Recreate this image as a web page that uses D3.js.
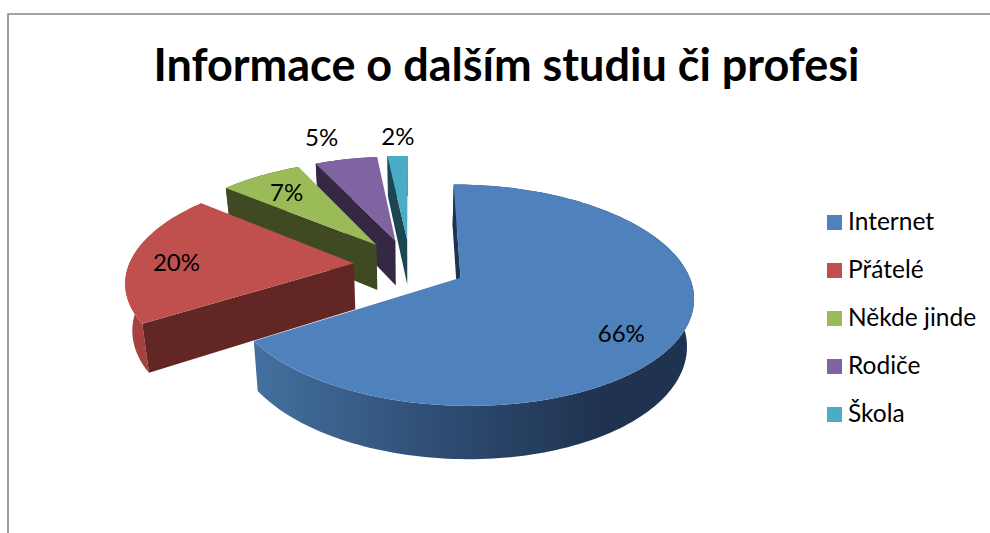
<!DOCTYPE html>
<html>
<head>
<meta charset="utf-8">
<script src="https://cdn.jsdelivr.net/npm/d3@7"></script>
<style>
html, body { margin: 0; padding: 0; background: #fff; overflow: hidden; }
text { font-family: Lato, "Noto Sans", sans-serif; fill: #000; }
</style>
</head>
<body>
<svg id="chart" width="990" height="533"></svg>
<script>
var categories = ['Internet', 'Přátelé', 'Někde jinde', 'Rodiče', 'Škola'];
var values     = [66, 20, 7, 5.3, 1.7];
var labels     = ['66%', '20%', '7%', '5%', '2%'];
var topColors  = ['#4f81bd', '#c0504d', '#9bbb59', '#8064a2', '#4bacc6'];
var sideColors = ['#1f3350', '#622725', '#404a22', '#352845', '#1d4552'];
var titleText  = 'Informace o dalším studiu či profesi';

var cx = 410.1, cy = 265, radiusX = 225, radiusY = 104;
var explode = 0.251, persp = 0.154, shrink = 0.975;

var svg = d3.select('#chart');
var xScale = d3.scaleLinear().domain([-1, 1]).range([cx - radiusX, cx + radiusX]);
var yScale = d3.scaleLinear().domain([-1, 1]).range([cy + radiusY, cy - radiusY]);
var line = d3.line();

// disc coordinates to screen, with a simple perspective
function project(X, Y, bottom){
	var s = 1 / (1 + persp * Y);
	var px = xScale(X * s), py = yScale(Y * s);
	if(bottom){
		px = cx + (px - cx) * shrink;
		py = py + 46 + (s - 1) * 35;
	}
	return [px, py];
}

// point of a slice: r from its own apex, at angle a (clockwise from 12 o'clock)
function slicePoint(d, a, r, bottom){
	var mid = (d.startAngle + d.endAngle) / 2;
	var X = explode * Math.sin(mid) + r * Math.sin(a);
	var Y = explode * Math.cos(mid) + r * Math.cos(a);
	return project(X, Y, bottom);
}

function arcAngles(d){
	var n = Math.max(4, Math.ceil((d.endAngle - d.startAngle) * 40));
	return d3.range(n + 1).map(function(i){ return d.startAngle + (d.endAngle - d.startAngle) * i / n; });
}

var slices = d3.pie().sort(null).value(function(d){ return d; })(values);

// frame, it runs off the picture on the right and at the bottom
svg.append('path')
	.attr('d', 'M8,533V14H990')
	.attr('fill', 'none')
	.attr('stroke', '#868686')
	.attr('stroke-width', 1.6);

// gradient for the outer wall of the big slice
var grad = svg.append('defs').append('linearGradient')
	.attr('id', 'wallBlue')
	.attr('gradientUnits', 'userSpaceOnUse')
	.attr('x1', 255).attr('x2', 600).attr('y1', 0).attr('y2', 0);
grad.append('stop').attr('offset', 0).attr('stop-color', '#44709f');
grad.append('stop').attr('offset', 0.55).attr('stop-color', '#2e4c72');
grad.append('stop').attr('offset', 1).attr('stop-color', '#1f3350');

// painted back to front
var order = [4, 3, 2, 1, 0];
var pieG = svg.append('g').attr('class', 'pie');
order.forEach(function(i){
	var d = slices[i];
	var g = pieG.append('g').attr('class', 'slice');
	var angles = arcAngles(d);
	var outerTop = angles.map(function(a){ return slicePoint(d, a, 1, false); });
	var outerBot = angles.map(function(a){ return slicePoint(d, a, 1, true); });

	// outer wall
	g.append('path')
		.attr('d', line(outerTop.concat(outerBot.slice().reverse())) + 'Z')
		.attr('fill', i === 0 ? 'url(#wallBlue)' : i === 1 ? '#a5423f' : sideColors[i]);

	// only the radial wall at the start angle can be seen from this side
	var wall = [
		slicePoint(d, d.startAngle, 0, false), slicePoint(d, d.startAngle, 1, false),
		slicePoint(d, d.startAngle, 1, true), slicePoint(d, d.startAngle, 0, true)
	];
	g.append('path').attr('d', line(wall) + 'Z').attr('fill', sideColors[i]);

	// top
	g.append('path')
		.attr('d', line([slicePoint(d, 0, 0, false)].concat(outerTop)) + 'Z')
		.attr('fill', topColors[i]);
});

// data labels
var labelR = [0.75, 0.8, 0.7, 1.2, 1.2];
var labelNudge = [[-2, 13], [0, 3], [-6, -3], [-16, -9], [2, -6]];
svg.append('g').selectAll('text').data(slices).enter().append('text')
	.attr('text-anchor', 'middle')
	.attr('dominant-baseline', 'central')
	.attr('font-size', 24)
	.attr('x', function(d, i){ return slicePoint(d, (d.startAngle + d.endAngle) / 2, labelR[i], false)[0] + labelNudge[i][0]; })
	.attr('y', function(d, i){ return slicePoint(d, (d.startAngle + d.endAngle) / 2, labelR[i], false)[1] + labelNudge[i][1]; })
	.text(function(d, i){ return labels[i]; });

// title
svg.append('text')
	.attr('x', 506.5).attr('y', 81)
	.attr('text-anchor', 'middle')
	.attr('font-size', 45)
	.attr('font-weight', 700)
	.text(titleText);

// legend
var legendY = d3.scalePoint().domain(categories).range([215, 407]);
var legend = svg.append('g').selectAll('g').data(categories).enter().append('g')
	.attr('transform', function(d){ return 'translate(827,' + legendY(d) + ')'; });
legend.append('rect')
	.attr('width', 15).attr('height', 15)
	.attr('fill', function(d, i){ return topColors[i]; });
legend.append('text')
	.attr('x', 21).attr('y', 15)
	.attr('font-size', 24.5)
	.text(function(d){ return d; });
</script>
</body>
</html>
